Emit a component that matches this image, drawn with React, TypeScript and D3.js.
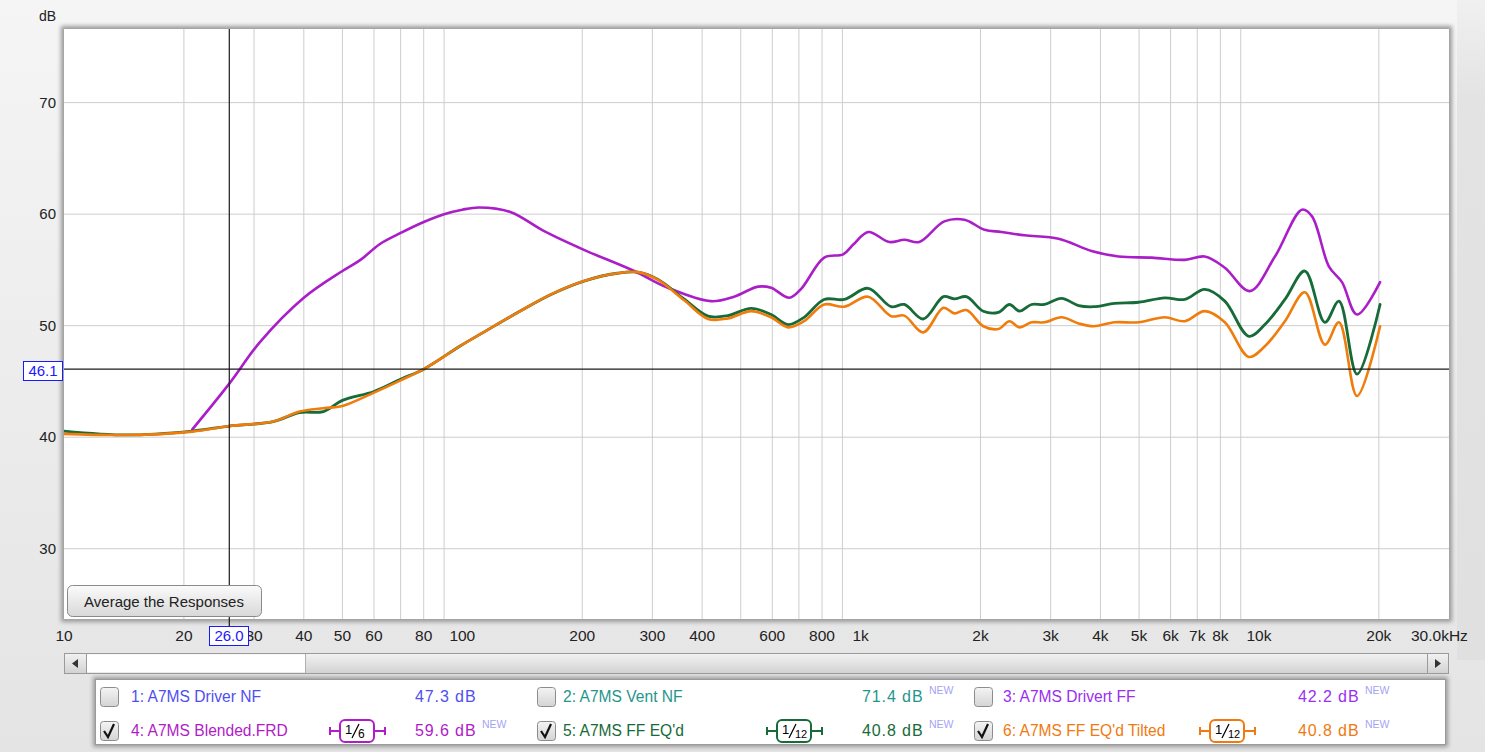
import React from "react";
import * as d3 from "d3";

// ---------- data ----------
const blendedFreq = [21, 26, 31, 40, 50, 55.5, 62, 69, 80, 90, 100, 110, 132, 160, 202, 270, 328, 421, 481, 553, 596, 662, 709, 810, 904, 960, 1045, 1180, 1287, 1403, 1622, 1822, 2046, 2257, 2578, 3140, 3800, 4444, 5380, 6512, 7311, 8209, 9484, 10970, 12820, 13590, 14990, 16160, 17630, 20140];
const blendedDb = [40.7, 44.8, 48.5, 52.5, 54.9, 55.9, 57.3, 58.2, 59.3, 60.0, 60.4, 60.6, 60.2, 58.5, 56.8, 54.9, 53.4, 52.2, 52.6, 53.5, 53.4, 52.5, 53.3, 56.1, 56.4, 57.3, 58.4, 57.5, 57.7, 57.5, 59.35, 59.5, 58.6, 58.4, 58.1, 57.8, 56.7, 56.2, 56.1, 55.9, 56.2, 55.2, 53.1, 56.2, 60.4, 59.8, 55.3, 53.9, 51.0, 53.9];

const eqFreq = [10, 14.4, 21, 26, 33.5, 39, 44.8, 50, 60, 70, 80, 99, 113, 138, 167, 202, 245, 276, 310, 360, 414, 464, 531, 596, 657, 721, 810, 910, 1044, 1193, 1287, 1436, 1614, 1719, 1843, 2032, 2218, 2364, 2505, 2685, 2895, 3193, 3525, 3846, 4341, 4988, 5800, 6512, 7311, 8209, 9432, 10347, 11620, 13040, 14640, 15880, 17630, 20140];
const eqDb = [40.55, 40.2, 40.55, 41.0, 41.4, 42.2, 42.3, 43.3, 44.1, 45.2, 46.1, 48.2, 49.4, 51.2, 52.8, 54.0, 54.7, 54.8, 54.15, 52.4, 50.85, 50.9, 51.55, 51.0, 50.1, 50.75, 52.35, 52.35, 53.35, 51.7, 51.9, 50.6, 52.6, 52.4, 52.6, 51.3, 51.2, 51.9, 51.3, 51.9, 51.9, 52.45, 51.8, 51.7, 52.0, 52.1, 52.5, 52.35, 53.25, 52.2, 49.05, 50.1, 52.35, 54.9, 50.3, 52.2, 45.65, 51.9];
const tiltedDb = [40.3, 40.2, 40.5, 41.0, 41.4, 42.3, 42.6, 42.8, 44.0, 45.1, 46.1, 48.2, 49.4, 51.2, 52.8, 54.0, 54.7, 54.8, 54.1, 52.3, 50.6, 50.65, 51.3, 50.75, 49.85, 50.4, 51.9, 51.7, 52.6, 50.85, 50.9, 49.4, 51.6, 51.1, 51.4, 49.95, 49.7, 50.4, 49.85, 50.3, 50.3, 50.75, 50.2, 49.95, 50.3, 50.3, 50.75, 50.4, 51.3, 50.3, 47.2, 48.15, 50.4, 53.0, 48.3, 50.3, 43.7, 49.95];

const xTickValues = [10, 20, 30, 40, 50, 60, 80, 100, 200, 300, 400, 600, 800, 1000, 2000, 3000, 4000, 5000, 6000, 7000, 8000, 10000, 20000];
const xTickLabels = ["10", "20", "30", "40", "50", "60", "80", "100", "200", "300", "400", "600", "800", "1k", "2k", "3k", "4k", "5k", "6k", "7k", "8k", "10k", "20k"];
const yTickValues = [30, 40, 50, 60, 70];
const decadeLines = [100, 1000, 10000];

const cursorFreq = 26.0;
const cursorDb = 46.1;

const legendRow1 = [
  { label: "1: A7MS Driver NF", value: "47.3 dB", isNew: false, color: "#4f4ff0", checked: false, badge: "" },
  { label: "2: A7MS Vent NF", value: "71.4 dB", isNew: true, color: "#1f968c", checked: false, badge: "" },
  { label: "3: A7MS Drivert FF", value: "42.2 dB", isNew: true, color: "#9b2ff0", checked: false, badge: "" },
];
const legendRow2 = [
  { label: "4: A7MS Blended.FRD", value: "59.6 dB", isNew: true, color: "#b01cc8", checked: true, badge: "6" },
  { label: "5: A7MS FF EQ'd", value: "40.8 dB", isNew: true, color: "#176b38", checked: true, badge: "12" },
  { label: "6: A7MS FF EQ'd Tilted", value: "40.8 dB", isNew: true, color: "#f07a10", checked: true, badge: "12" },
];

const COLOR_BLENDED = "#aa1ec8";
const COLOR_EQ = "#176b38";
const COLOR_TILT = "#f07c0c";
const COLOR_NEW = "#a4a4f4";

// ---------- layout ----------
const W = 1485, H = 752;
const L = 64, R = 1449, T = 29, B = 619;
const FONT = "'Liberation Sans', Arial, sans-serif";

export default function App() {
  const x = d3.scaleLog().domain([10, 30000]).range([L, R]);
  const y = d3.scaleLinear().domain([23.7, 76.6]).range([B, T]);

  const minorX: number[] = [];
  for (let dec = 10; dec <= 10000; dec *= 10) {
    for (let m = 2; m <= 9; m++) {
      const f = dec * m;
      if (f < 30000) minorX.push(f);
    }
  }

  const line = d3
    .line<[number, number]>()
    .x((d) => x(d[0]))
    .y((d) => y(d[1]))
    .curve(d3.curveCatmullRom.alpha(0.5));

  const blended = blendedFreq.map((f, i) => [f, blendedDb[i]] as [number, number]);
  const eq = eqFreq.map((f, i) => [f, eqDb[i]] as [number, number]);
  const tilt = eqFreq.map((f, i) => [f, tiltedDb[i]] as [number, number]);

  const cx = x(cursorFreq);
  const cy = y(cursorDb);

  const colX = [
    { box: 100, label: 131, badge: 330, value: 415 },
    { box: 537, label: 563, badge: 767, value: 862 },
    { box: 974, label: 1003, badge: 1200, value: 1298 },
  ];

  const renderCheckbox = (bx: number, by: number, checked: boolean, key: string) => (
    <g key={key}>
      <rect x={bx + 0.5} y={by + 0.5} width={18} height={19} rx={3} fill="url(#cbGrad)" stroke="#8c8c8c" strokeWidth={1} />
      {checked && (
        <path d={`M${bx + 4},${by + 10} L${bx + 8},${by + 16} L${bx + 14},${by + 3}`} fill="none" stroke="#111" strokeWidth={2.2} />
      )}
    </g>
  );

  const renderBadge = (bx: number, cyy: number, denom: string, color: string, key: string) => (
    <g key={key}>
      <line x1={bx} x2={bx + 55} y1={cyy} y2={cyy} stroke={color} strokeWidth={2} />
      <line x1={bx} x2={bx} y1={cyy - 4} y2={cyy + 4} stroke={color} strokeWidth={2} />
      <line x1={bx + 55} x2={bx + 55} y1={cyy - 4} y2={cyy + 4} stroke={color} strokeWidth={2} />
      <rect x={bx + 10} y={cyy - 11} width={34} height={22} rx={5} fill="#fff" stroke={color} strokeWidth={2} />
      <text x={bx + 15} y={cyy + 3} fontSize={13} fontFamily={FONT} fill="#000">1</text>
      <line x1={bx + 22} x2={bx + 29} y1={cyy + 7} y2={cyy - 7} stroke="#000" strokeWidth={1.2} />
      <text x={bx + 28} y={cyy + 7} fontSize={denom.length > 1 ? 11 : 12} fontFamily={FONT} fill="#000">{denom}</text>
    </g>
  );

  const renderRow = (row: typeof legendRow1, cyy: number, rk: string) =>
    row.map((e, i) => {
      const c = colX[i];
      return (
        <g key={rk + i}>
          {renderCheckbox(c.box, cyy - 10, e.checked, rk + "cb" + i)}
          <text x={c.label} y={cyy + 5} fontSize={15.6} fontFamily={FONT} fill={e.color}>{e.label}</text>
          {e.badge && renderBadge(c.badge, cyy, e.badge, e.color, rk + "bd" + i)}
          <text x={c.value} y={cyy + 5} fontSize={16} letterSpacing={0.9} fontFamily={FONT} fill={e.color}>
            {e.value}
          </text>
          {e.isNew && (
            <text x={c.value + 67} y={cyy - 3} fontSize={10.5} fontFamily={FONT} fill={COLOR_NEW}>NEW</text>
          )}
        </g>
      );
    });

  return (
    <svg width={W} height={H} style={{ position: "absolute", left: 0, top: 0 }} xmlns="http://www.w3.org/2000/svg">
      <defs>
        <linearGradient id="bgGrad" x1="0" y1="0" x2="0" y2="1">
          <stop offset="0" stopColor="#f5f5f5" />
          <stop offset="1" stopColor="#e4e4e4" />
        </linearGradient>
        <linearGradient id="sideGrad" x1="0" y1="0" x2="0" y2="1">
          <stop offset="0" stopColor="#f0f0f0" />
          <stop offset="0.15" stopColor="#e3e3e3" />
          <stop offset="1" stopColor="#e0e0e0" />
        </linearGradient>
        <linearGradient id="btnGrad" x1="0" y1="0" x2="0" y2="1">
          <stop offset="0" stopColor="#fbfbfb" />
          <stop offset="1" stopColor="#d8d8d8" />
        </linearGradient>
        <linearGradient id="cbGrad" x1="0" y1="0" x2="0" y2="1">
          <stop offset="0" stopColor="#f4f4f4" />
          <stop offset="1" stopColor="#d4d4d4" />
        </linearGradient>
        <linearGradient id="sbGrad" x1="0" y1="0" x2="0" y2="1">
          <stop offset="0" stopColor="#f2f2f2" />
          <stop offset="1" stopColor="#d2d2d2" />
        </linearGradient>
        <clipPath id="plotClip">
          <rect x={L} y={T} width={R - L} height={B - T} />
        </clipPath>
        <filter id="shadow" x="-5%" y="-5%" width="110%" height="110%">
          <feGaussianBlur stdDeviation="2" />
        </filter>
      </defs>

      <rect x={0} y={0} width={W} height={H} fill="url(#bgGrad)" />
      <rect x={1457} y={0} width={28} height={660} fill="url(#sideGrad)" />

      {/* plot frame with shadow */}
      <rect x={L - 3} y={T - 3} width={R - L + 6} height={B - T + 6} fill="#9a9a9a" filter="url(#shadow)" />
      <rect x={L} y={T} width={R - L} height={B - T} fill="#ffffff" />

      {/* grid */}
      <g>
        {minorX.map((f) => (
          <line key={"gx" + f} x1={x(f)} x2={x(f)} y1={T} y2={B}
            stroke={decadeLines.includes(f) ? "#8f8f8f" : "#cdcdcd"} strokeWidth={1} />
        ))}
        {yTickValues.map((v) => (
          <line key={"gy" + v} x1={L} x2={R} y1={y(v)} y2={y(v)} stroke="#cdcdcd" strokeWidth={1} />
        ))}
      </g>

      {/* curves */}
      <g clipPath="url(#plotClip)" fill="none" strokeLinejoin="round" strokeLinecap="round">
        <path d={line(blended) || ""} stroke={COLOR_BLENDED} strokeWidth={2.6} />
        <path d={line(eq) || ""} stroke={COLOR_EQ} strokeWidth={2.8} />
        <path d={line(tilt) || ""} stroke={COLOR_TILT} strokeWidth={2.6} />
      </g>

      {/* cursor */}
      <line x1={cx} x2={cx} y1={T} y2={B + 8} stroke="#1a1a1a" strokeWidth={1.2} />
      <line x1={L} x2={R} y1={cy} y2={cy} stroke="#1a1a1a" strokeWidth={1.2} />

      {/* y axis */}
      <text x={56} y={21} textAnchor="end" fontSize={14} fontFamily={FONT} fill="#222">dB</text>
      {yTickValues.map((v) => (
        <text key={"yt" + v} x={56} y={y(v) + 5} textAnchor="end" fontSize={15} fontFamily={FONT} fill="#222">{v}</text>
      ))}
      <rect x={23.5} y={361.5} width={39} height={19} fill="#fff" stroke="#1a1aff" strokeWidth={1} />
      <text x={43} y={376} textAnchor="middle" fontSize={15} fontFamily={FONT} fill="#1a1aff">{cursorDb.toFixed(1)}</text>

      {/* x axis */}
      {xTickValues.map((v, i) => (
        <text key={"xt" + v} x={x(v)} y={641} textAnchor="middle" fontSize={15.5} fontFamily={FONT} fill="#222">{xTickLabels[i]}</text>
      ))}
      <text x={1411} y={641} fontSize={15.5} fontFamily={FONT} fill="#222">30.0kHz</text>
      <rect x={209.5} y={626.5} width={39} height={19} fill="#fff" stroke="#1a1aff" strokeWidth={1} />
      <text x={229} y={641} textAnchor="middle" fontSize={15} fontFamily={FONT} fill="#1a1aff">{cursorFreq.toFixed(1)}</text>

      {/* button */}
      <rect x={67.5} y={585.5} width={194} height={31} rx={5} fill="url(#btnGrad)" stroke="#8a8a8a" strokeWidth={1} />
      <text x={164} y={607} textAnchor="middle" fontSize={15} fontFamily={FONT} fill="#222">Average the Responses</text>

      {/* scrollbar */}
      <rect x={64.5} y={653.5} width={1384} height={20} fill="url(#sbGrad)" stroke="#9a9a9a" strokeWidth={1} />
      <rect x={87} y={654.5} width={218} height={18} fill="#ffffff" />
      <line x1={86.5} x2={86.5} y1={654} y2={673} stroke="#9a9a9a" />
      <line x1={305.5} x2={305.5} y1={654} y2={673} stroke="#b0b0b0" />
      <line x1={1427.5} x2={1427.5} y1={654} y2={673} stroke="#9a9a9a" />
      <path d="M72,663.5 L78,659 L78,668 Z" fill="#333" />
      <path d="M1441,663.5 L1435,659 L1435,668 Z" fill="#333" />

      {/* legend */}
      <rect x={93} y={677} width={1355} height={70} fill="#9a9a9a" filter="url(#shadow)" />
      <rect x={95.5} y={679.5} width={1350} height={65} fill="#ffffff" stroke="#9a9a9a" strokeWidth={1} />
      {renderRow(legendRow1, 697, "r1")}
      {renderRow(legendRow2, 731, "r2")}
    </svg>
  );
}
